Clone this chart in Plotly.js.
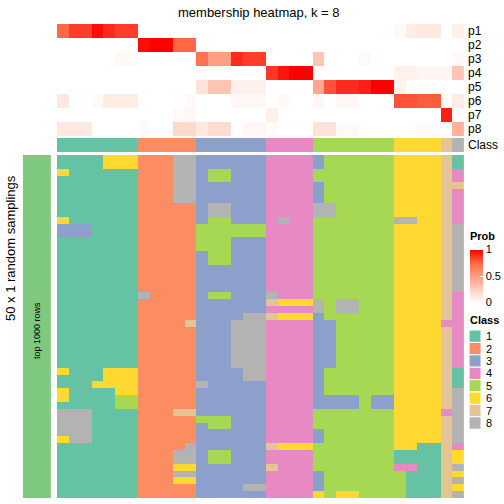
<!DOCTYPE html>
<html>
<head>
<meta charset="utf-8">
<script src="https://cdn.plot.ly/plotly-3.0.1.min.js"></script>
<style>html,body{margin:0;padding:0;background:#fff;}#chart{width:504px;height:504px;}</style>
</head>
<body>
<div id="chart"></div>
<script>
// ---------------- data ----------------
const probRows = ['p1','p2','p3','p4','p5','p6','p7','p8'];
const p1 = [0.75,0.85,0.85,0.97,0.9,0.85,0.85, 0,0,0,0,0, 0,0,0,0,0,0, 0,0,0,0, 0,0,0,0,0,0,0, 0.03,0.1,0.12,0.12, 0, 0.08];
const p2 = [0,0,0,0,0,0,0, 0.97,1,1,0.75,0.75, 0,0,0,0,0,0, 0,0,0,0, 0,0,0,0,0,0,0, 0,0,0,0, 0, 0];
const p3 = [0,0,0,0,0,0.03,0.03, 0,0,0,0,0, 0.7,0.5,0.5,0.9,0.85,0.85, 0,0,0,0, 0.3,0,0,0,0.03,0,0, 0,0,0,0, 0, 0.03];
const p4 = [0,0,0,0,0,0,0, 0,0,0,0,0, 0,0,0,0,0,0, 0.87,0.95,1,1, 0,0,0,0,0,0,0, 0.07,0.07,0.05,0.05, 0.05, 0.3];
const p5 = [0,0,0,0,0,0,0, 0,0,0,0,0, 0.15,0.3,0.3,0.08,0.08,0.08, 0,0,0,0, 0.45,0.8,0.9,0.9,0.93,1,1, 0.07,0,0,0, 0, 0];
const p6 = [0.12,0,0,0.03,0.1,0.1,0.1, 0,0,0,0,0.03, 0,0,0,0.04,0.04,0.04, 0,0.03,0,0, 0.04,0,0.04,0.04,0,0,0, 0.8,0.8,0.78,0.78, 0, 0.1];
const p7 = [0,0,0,0,0,0,0, 0,0,0,0.03,0.04, 0,0,0,0,0,0, 0.08,0,0,0, 0,0,0,0,0,0,0, 0,0,0,0, 0.93, 0.02];
const p8 = [0.12,0.12,0.12,0,0,0,0, 0.02,0,0,0.2,0.2, 0.12,0.18,0.18,0,0.04,0.04, 0.02,0,0,0, 0.15,0.15,0.03,0.03,0,0,0, 0,0,0.02,0.02, 0, 0.4];

const classRow = "1111111 22222 333333 4444 5555555 6666 7 8";

// 50 random samplings x 35 samples (class labels)
const samplings = [
"1111666 22288 333333 4444 3555555 6666 7 1",
"1111666 22288 333333 4444 3555555 6666 7 1",
"6111111 22288 355333 4444 5555555 6666 7 4",
"1111111 22288 355333 4444 5555555 6666 7 4",
"1111111 22288 333333 4444 3555555 6666 7 7",
"1111111 22288 333333 4444 3555555 6666 7 4",
"1111111 22288 333333 4444 3555555 6666 7 4",
"1111111 22222 388333 4444 8855555 6666 7 4",
"1111111 22222 388333 4444 8855555 6666 7 4",
"6111111 22222 355333 4844 5555555 8866 7 4",
"3331111 22222 555555 4444 5555555 6666 7 8",
"3331111 22222 555555 4444 5555555 6666 7 8",
"1111111 22222 555333 4444 5555555 6666 7 8",
"1111111 22222 555333 4444 5555555 6666 7 8",
"1111111 22222 355333 4444 5555555 6666 7 8",
"1111111 22222 355333 4444 5555555 6666 7 8",
"1111111 22222 333333 4444 5555555 6666 7 8",
"1111111 22222 333333 4444 5555555 6666 7 8",
"1111111 22222 333333 4444 5555555 6666 7 8",
"1111111 22222 333333 4444 5555555 6666 7 8",
"1111111 82222 355333 8444 5555555 6666 7 4",
"1111111 22222 333333 7666 8588555 6666 7 4",
"1111111 22222 333333 4444 8588555 6666 7 4",
"1111111 22222 333388 7666 3555555 6666 7 4",
"1111111 22227 333888 4444 3355555 6666 4 4",
"1111111 22222 333888 4444 3355555 6666 7 4",
"1111111 22222 333888 4444 3355555 6666 7 4",
"1111111 22222 333888 4444 3355555 6666 7 4",
"1111111 22222 333888 4444 3355555 6666 7 4",
"1111111 22222 333888 4444 3355555 6666 7 4",
"1111111 22222 333888 4444 3355555 6666 7 4",
"6111666 22222 333388 4444 3555555 6666 7 1",
"1111666 22222 333388 4444 3555555 6666 7 1",
"1116666 22222 833333 4444 3555555 6666 7 1",
"6111166 22222 333333 4444 3555555 6666 7 8",
"6111155 22222 333333 4444 3333533 6666 7 8",
"1111155 22222 333333 4444 3333533 6666 7 8",
"8881111 22277 333333 4444 5555555 6666 4 8",
"8881111 22222 555333 4444 5555555 6666 7 8",
"8881111 22222 355333 4444 5555555 6666 7 8",
"8881111 22222 333333 4444 3555555 6666 7 8",
"6881111 22222 333333 4444 3555555 6666 7 8",
"1111111 22228 333333 7666 5555555 6611 7 4",
"1111111 22288 355333 4444 5555555 1111 7 6",
"1111111 22288 355333 4444 5555555 1111 7 6",
"1111111 22266 333333 7444 5555555 4411 7 8",
"1111111 22288 333333 4444 3555555 5111 7 6",
"1111111 22266 333333 4444 3555555 5111 7 8",
"1111111 22222 333388 4444 3555555 5111 7 6",
"1111111 22222 333333 4444 6566555 5111 7 8"
];

const classLabels = ['1','2','3','4','5','6','7','8'];
const classColors = ['#66C2A5','#FC8D62','#8DA0CB','#E78AC3','#A6D854','#FFD92F','#E5C494','#B3B3B3'];
const probTicks = [0, 0.5, 1];

// ---------------- build ----------------
const W = 504, H = 504;
const px = v => v / W;
const py = v => 1 - v / H;
const parseRow = s => s.replace(/\s+/g,'').split('').map(Number);

const nCols = p1.length;
const cols = Array.from({length:nCols}, (_,i)=>i);
const probZ = [p1,p2,p3,p4,p5,p6,p7,p8];
const classZ = [parseRow(classRow)];
const sampZ = samplings.map(parseRow);

const classScale = [];
classColors.forEach((c,k)=>{ classScale.push([k/8,c]); classScale.push([(k+1)/8,c]); });
const probScale = [[0,'#FFFFFF'],[0.25,'rgb(255,207,191)'],[0.5,'rgb(255,158,129)'],[0.75,'rgb(255,104,70)'],[1,'#FF0000']];

const X0 = 57, X1 = 465;
const font = 'Liberation Sans, Arial, Helvetica, sans-serif';

const traces = [
  {type:'heatmap', x:cols, y:probRows.map((_,i)=>i), z:probZ, xaxis:'x', yaxis:'y',
   colorscale:probScale, zmin:0, zmax:1, hoverinfo:'skip',
   colorbar:{x:px(470), xanchor:'left', y:py(276), yanchor:'middle', len:53, lenmode:'pixels',
     thickness:13, thicknessmode:'pixels', xpad:0, ypad:0, outlinewidth:0,
     tickvals:probTicks, ticktext:probTicks.map(String), ticks:'inside', ticklen:3, tickcolor:'#ffffff',
     tickfont:{family:font, size:11, color:'#000'}}},
  {type:'heatmap', x:cols, y:[0], z:classZ, xaxis:'x', yaxis:'y2',
   colorscale:classScale, zmin:0.5, zmax:8.5, showscale:false, hoverinfo:'skip'},
  {type:'heatmap', x:cols, y:sampZ.map((_,i)=>i), z:sampZ, xaxis:'x', yaxis:'y3',
   colorscale:classScale, zmin:0.5, zmax:8.5, showscale:false, hoverinfo:'skip'}
];

const hidden = {showticklabels:false, showgrid:false, zeroline:false, showline:false, ticks:'', fixedrange:true};

const annotations = [];
annotations.push({text:'membership heatmap, k = 8', x:px(260), y:py(12), xref:'paper', yref:'paper',
  showarrow:false, xanchor:'center', yanchor:'middle', font:{family:font, size:13, color:'#000'}});
probRows.forEach((r,i)=>{
  annotations.push({text:r, x:px(467), y:py(31 + i*14), xref:'paper', yref:'paper', showarrow:false,
    xanchor:'left', yanchor:'middle', font:{family:font, size:12, color:'#000'}});
});
annotations.push({text:'Class', x:px(467), y:py(145), xref:'paper', yref:'paper', showarrow:false,
  xanchor:'left', yanchor:'middle', font:{family:font, size:12, color:'#000'}});
annotations.push({text:'50 x 1 random samplings', x:px(10), y:py(248), xref:'paper', yref:'paper', showarrow:false,
  textangle:-90, xanchor:'center', yanchor:'middle', font:{family:font, size:13, color:'#000'}});
annotations.push({text:'top 1000 rows', x:px(37), y:py(330), xref:'paper', yref:'paper', showarrow:false,
  textangle:-90, xanchor:'center', yanchor:'middle', font:{family:font, size:9, color:'#000'}});
annotations.push({text:'<b>Prob</b>', x:px(469), y:py(236), xref:'paper', yref:'paper', showarrow:false,
  xanchor:'left', yanchor:'middle', font:{family:font, size:11, color:'#000'}});
annotations.push({text:'<b>Class</b>', x:px(469), y:py(320), xref:'paper', yref:'paper', showarrow:false,
  xanchor:'left', yanchor:'middle', font:{family:font, size:11, color:'#000'}});

const shapes = [];
shapes.push({type:'rect', xref:'paper', yref:'paper', x0:px(23), x1:px(51), y0:py(498), y1:py(155),
  fillcolor:'#7FC97F', line:{width:0}});
const boxH = 12.4, boxTop = 330;
classLabels.forEach((lab,i)=>{
  shapes.push({type:'rect', xref:'paper', yref:'paper', x0:px(470), x1:px(482),
    y0:py(boxTop + (i+1)*boxH), y1:py(boxTop + i*boxH), fillcolor:classColors[i], line:{width:1, color:'#ffffff'}});
  annotations.push({text:lab, x:px(485), y:py(boxTop + i*boxH + boxH/2), xref:'paper', yref:'paper', showarrow:false,
    xanchor:'left', yanchor:'middle', font:{family:font, size:11, color:'#000'}});
});

const layout = {
  width:W, height:H, margin:{l:0,r:0,t:0,b:0}, paper_bgcolor:'#fff', plot_bgcolor:'#fff',
  showlegend:false,
  xaxis:Object.assign({domain:[px(X0), px(X1)], range:[-0.5, nCols-0.5], anchor:'y3'}, hidden),
  yaxis:Object.assign({domain:[py(136), py(24)], range:[7.5,-0.5], anchor:'x'}, hidden),
  yaxis2:Object.assign({domain:[py(152), py(138)], range:[0.5,-0.5], anchor:'x'}, hidden),
  yaxis3:Object.assign({domain:[py(498), py(155)], range:[49.5,-0.5], anchor:'x'}, hidden),
  annotations:annotations, shapes:shapes
};

Plotly.newPlot('chart', traces, layout, {displayModeBar:false, staticPlot:true});
</script>
</body>
</html>
